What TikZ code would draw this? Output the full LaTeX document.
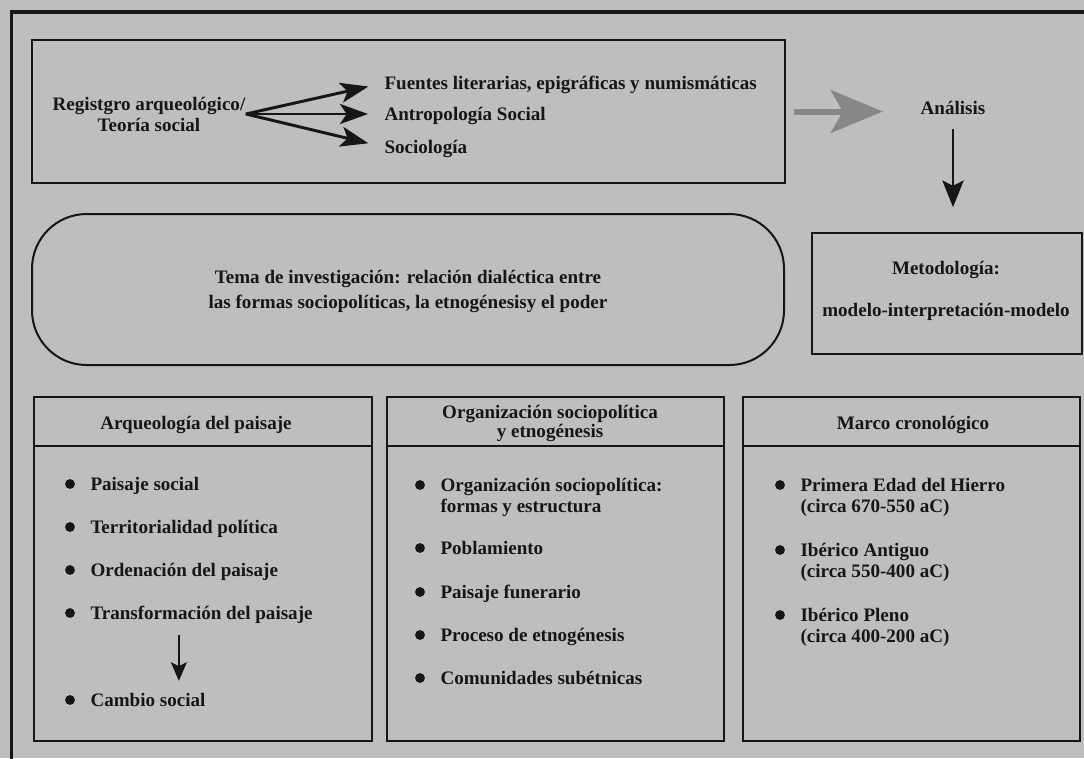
\documentclass[tikz,border=0pt]{standalone}
\usepackage{fontspec}
\setmainfont{Liberation Serif}
\usetikzlibrary{arrows.meta,fit,positioning}

\definecolor{fondo}{RGB}{190,190,190}
\definecolor{flechagris}{RGB}{135,135,135}
\definecolor{tinta}{RGB}{22,22,22}

\tikzset{every picture/.style={line width=0.75pt}}
\tikzset{
  caja/.style={draw=tinta, line width=1.8pt, inner sep=0pt},
  txt/.style={inner sep=0pt, text=tinta, font=\fontsize{14.3}{15.75}\selectfont\bfseries},
  linea/.style={txt, text height=12pt, text depth=2pt},
  itm/.style={linea, anchor=west},
  itmdos/.style={txt, anchor=west, align=left},
  flecha/.style={draw=tinta, line width=2.2pt, -{Stealth[length=21pt,width=15pt,inset=5pt]}},
  flechagruesa/.style={draw=flechagris, line width=4.5pt, -{Stealth[length=39pt,width=32pt,inset=9pt]}},
  flechachica/.style={draw=tinta, line width=1.5pt, -{Stealth[length=14pt,width=12pt,inset=3pt]}},
  vineta/.style={fill=tinta},
}

\begin{document}
\begin{tikzpicture}[x=0.75pt,y=0.75pt,yscale=-1,xscale=1]
\useasboundingbox (0,0) rectangle (1084,758);
\fill[fondo] (0,0) rectangle (1084,758);
%Marco exterior
\draw[tinta, line width=2.5pt] (11.5,762) -- (11.5,12) -- (1088,12);

%Caja superior
\node[caja, fit={(32,40) (785,183)}] (fuentes) {};
% Text Node
\node[txt, align=center] (registro) at (149,114) {Registgro arqueológico/\\Teoría social};
% Text Node
\node[itm] (literarias) at (384,83) {Fuentes literarias, epigráficas y numismáticas};
% Text Node
\node[itm] (antropologia) at (384,114) {Antropología Social};
% Text Node
\node[itm] (sociologia) at (384,147) {Sociología};
%Flechas negras
\foreach \n in {literarias,antropologia,sociologia}
  \draw[flecha, shorten >=12pt] (registro.east) -- (\n.west);

% Text Node
\node[linea] (analisis) at (953,108) {Análisis};
%Flecha gris
\draw[flechagruesa, shorten <=6pt, shorten >=28pt] (fuentes.east) -- (fuentes.east -| analisis.west);

%Metodologia
\node[caja, fit={(812,233) (1082,354)}] (metodo) {};
\node[txt, align=center] (metodotxt) at (946,291) {Metodología:\\[15.5pt]modelo-interpretación-modelo};
\draw[flecha, line width=1.5pt, -{Stealth[length=20pt,width=16pt,inset=4pt]}, shorten <=8.5pt, shorten >=18.5pt] (analisis.south) -- (analisis.south |- metodo.north);

%Tema de investigacion
\node[caja, line width=1.5pt, rounded corners=41pt, fit={(32,214) (784,365)}] (tema) {};
\node[txt, align=center] (tematxt) at (408,291) {Tema de investigación: relación dialéctica entre\\[3pt]las formas sociopolíticas, la etnogénesisy el poder};

%Caja 1
\node[caja, fit={(34,397) (372,741)}] (paisaje) {};
\draw[caja] (34,446) -- (372,446);
\node[linea] (tpaisaje) at (196,423) {Arqueología del paisaje};
\node[itm] (social) at (90,484) {Paisaje social};
\node[itm] (territorio) at (90,527) {Territorialidad política};
\node[itm] (ordenacion) at (90,570) {Ordenación del paisaje};
\node[itm] (transformacion) at (90,613) {Transformación del paisaje};
\node[itm] (cambio) at (90,700) {Cambio social};
\foreach \y in {484,527,570,613,700}
  \fill[vineta] (70,\y) circle (3.7pt);
\coordinate (baja) at ([xshift=-17pt]transformacion.south);
\draw[flechachica, shorten <=9pt, shorten >=7pt] (baja) -- (baja |- cambio.north);

%Caja 2
\node[caja, fit={(387,397) (724,741)}] (organizacion) {};
\draw[caja] (387,446) -- (724,446);
\node[txt, align=center] (torganizacion) at (550,423.5) {Organización sociopolítica\\[-1.5pt]y etnogénesis};
\node[itmdos] (formas) at (440,497.5) {Organización sociopolítica:\\formas y estructura};
\node[itm] (poblamiento) at (440,548) {Poblamiento};
\node[itm] (funerario) at (440,592) {Paisaje funerario};
\node[itm] (etnogenesis) at (440,635) {Proceso de etnogénesis};
\node[itm] (subetnicas) at (440,678) {Comunidades subétnicas};
\foreach \y in {485,548,592,635,678}
  \fill[vineta] (420,\y) circle (3.7pt);

%Caja 3
\node[caja, fit={(743,397) (1080,741)}] (marco) {};
\draw[caja] (743,446) -- (1080,446);
\node[linea] (tmarco) at (913,423) {Marco cronológico};
\node[itmdos] (hierro) at (800,497.5) {Primera Edad del Hierro\\(circa 670-550 aC)};
\node[itmdos] (antiguo) at (800,562.5) {Ibérico Antiguo\\(circa 550-400 aC)};
\node[itmdos] (pleno) at (800,627.5) {Ibérico Pleno\\(circa 400-200 aC)};
\foreach \y in {485,550,615}
  \fill[vineta] (780,\y) circle (3.7pt);

\end{tikzpicture}
\end{document}
